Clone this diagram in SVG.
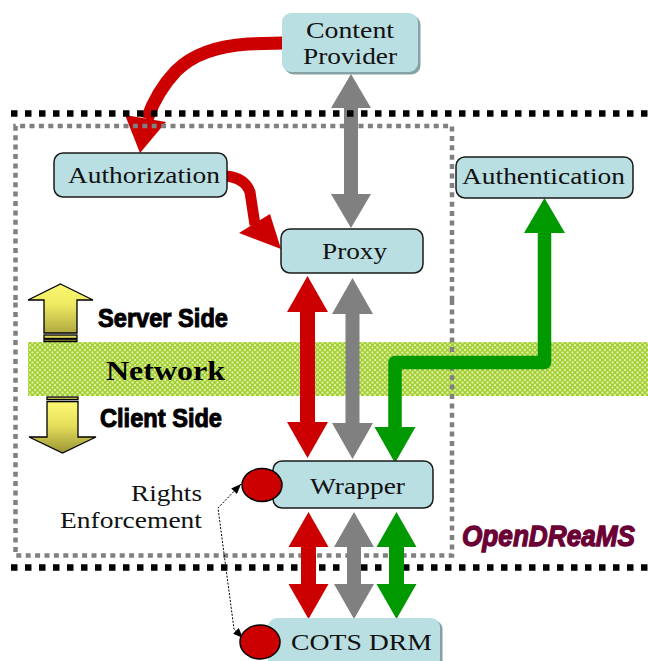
<svg xmlns="http://www.w3.org/2000/svg" width="648" height="661" viewBox="0 0 648 661">
  <style>
    .box { fill: #b9dfe2; stroke: #1a1a1a; stroke-width: 1.5; }
    .boxsoft { fill: #b9dfe2; }
    .shade { fill: #86a2a4; }
    .lbl { font-family: "Liberation Serif", "Times New Roman", serif; font-size: 24px; fill: #111; }
    .side { font-family: "Liberation Sans", Arial, sans-serif; font-weight: bold; font-size: 25px; fill: #000; stroke: #000; stroke-width: 1; }
    .red { fill: #cc0000; }
    .gray { fill: #808080; }
    .green { fill: #009900; }
    .blackdots { fill: none; stroke: #000; stroke-width: 6.5; stroke-dasharray: 6.5 7.5; }
    .graydots { fill: none; stroke: #808080; stroke-width: 4.5; stroke-dasharray: 5 4.4; }
    .ylw { stroke: #000; stroke-width: 1.3; stroke-linejoin: miter; }
  </style>
  <defs>
    <pattern id="mesh" width="5" height="5" patternUnits="userSpaceOnUse">
      <rect width="5" height="5" fill="#a2cf30"/>
      <circle cx="0" cy="0" r="1.2" fill="#dcefa4"/>
      <circle cx="5" cy="0" r="1.2" fill="#dcefa4"/>
      <circle cx="0" cy="5" r="1.2" fill="#dcefa4"/>
      <circle cx="5" cy="5" r="1.2" fill="#dcefa4"/>
      <circle cx="2.5" cy="2.5" r="1.2" fill="#dcefa4"/>
    </pattern>
    <linearGradient id="upFill" gradientUnits="userSpaceOnUse" x1="0" y1="284" x2="0" y2="342">
      <stop offset="0" stop-color="#fbf770"/>
      <stop offset="0.35" stop-color="#eeea62"/>
      <stop offset="1" stop-color="#9c9536"/>
    </linearGradient>
    <linearGradient id="downFill" gradientUnits="userSpaceOnUse" x1="0" y1="397" x2="0" y2="453">
      <stop offset="0" stop-color="#a59d3c"/>
      <stop offset="0.12" stop-color="#fbf770"/>
      <stop offset="0.5" stop-color="#e6e05c"/>
      <stop offset="1" stop-color="#9c9536"/>
    </linearGradient>
    <marker id="tip" viewBox="0 0 10 8" refX="10" refY="4" markerWidth="10" markerHeight="8" markerUnits="userSpaceOnUse" orient="auto-start-reverse">
      <path d="M0,0 L10,4 L0,8 z" fill="#000"/>
    </marker>
  </defs>

  <rect width="648" height="661" fill="#fff"/>

  <!-- network band -->
  <rect x="28" y="342" width="620" height="54" fill="url(#mesh)"/>

  <!-- server / client side indicators -->
  <g id="server-side">
    <polygon class="ylw" fill="url(#upFill)" points="60.5,284 93,300 77,300 77,333 44,333 44,300 28,300"/>
    <rect class="ylw" fill="#d8d256" x="44" y="335" width="33" height="3.5"/>
    <rect class="ylw" fill="#d8d256" x="44" y="339.8" width="33" height="1.8"/>
    <text class="side" x="98" y="327" textLength="130" lengthAdjust="spacingAndGlyphs">Server Side</text>
  </g>
  <g id="network-label">
    <text x="106" y="380" font-family="'Liberation Serif', 'Times New Roman', serif" font-weight="bold" font-size="27" fill="#000" textLength="119" lengthAdjust="spacingAndGlyphs">Network</text>
  </g>
  <g id="client-side">
    <rect class="ylw" fill="#d8d256" x="47" y="397" width="31" height="2.5"/>
    <polygon class="ylw" fill="url(#downFill)" points="47,401.5 78,401.5 78,437 96,437 62.5,453 29,437 47,437"/>
    <text class="side" x="100" y="427" textLength="122" lengthAdjust="spacingAndGlyphs">Client Side</text>
  </g>

  <!-- frame lines passing beneath the connectors -->
  <g id="frame-back">
    <line class="blackdots" x1="11" y1="567.5" x2="648" y2="567.5"/>
    <path class="graydots" d="M452,300 V555.5 H15.5 V300"/>
  </g>

  <g id="connectors">
    <!-- content provider to authorization -->
    <path d="M284,43 L248,44 Q200,47 176,71 Q157,91 147,119" fill="none" stroke="#cc0000" stroke-width="13"/>
    <polygon class="red" points="125,115 166,122 140,153"/>
    <!-- authorization to proxy -->
    <path d="M226,176 Q245,178 250,192 L255,225" fill="none" stroke="#cc0000" stroke-width="11"/>
    <polygon class="red" points="239,233 270,214 281,249"/>
    <!-- content provider <-> proxy -->
    <polygon class="gray" points="351,74 371,108 358,108 358,194 371,194 351,228 331,194 344,194 344,108 331,108"/>
    <!-- proxy <-> wrapper -->
    <polygon class="red" points="307.5,276 328,312 315,312 315,422 328,422 307.5,458 287,422 300,422 300,312 287,312"/>
    <polygon class="gray" points="352.5,278 373,314 359.5,314 359.5,423 373,423 352.5,459 332,423 345.5,423 345.5,314 332,314"/>
    <!-- wrapper <-> authentication -->
    <path d="M395,429 V362.5 H544.5 V231" fill="none" stroke="#009900" stroke-width="13.5" stroke-linejoin="round"/>
    <polygon class="green" points="544.5,198 565,233 524,233"/>
    <polygon class="green" points="395,463 415.5,427 374.5,427"/>
    <!-- wrapper <-> COTS DRM -->
    <polygon class="red" points="308.5,512 328.5,547 316,547 316,584 328.5,584 308.5,619 288.5,584 301,584 301,547 288.5,547"/>
    <polygon class="gray" points="354,512 374,547 361,547 361,584 374,584 354,619 334,584 347,584 347,547 334,547"/>
    <polygon class="green" points="396.5,512 416.5,547 404,547 404,584 416.5,584 396.5,619 376.5,584 389,584 389,547 376.5,547"/>
    <!-- rights enforcement link -->
    <path d="M241,484 L218,508 L234,629 L243,638" fill="none" stroke="#000" stroke-width="1" stroke-dasharray="2 1.5" marker-start="url(#tip)" marker-end="url(#tip)"/>
  </g>

  <!-- frame lines drawn over the connectors -->
  <g id="frame-front">
    <line class="blackdots" x1="11" y1="113.5" x2="648" y2="113.5"/>
    <path class="graydots" d="M15.5,300 V126 H452 V300"/>
  </g>

  <g id="content-provider">
    <rect class="shade" x="284.5" y="15.5" width="136" height="59" rx="9"/>
    <rect class="boxsoft" x="282" y="13" width="136" height="59" rx="9"/>
    <text class="lbl" x="350" y="38" text-anchor="middle" textLength="88" lengthAdjust="spacingAndGlyphs">Content</text>
    <text class="lbl" x="350" y="64" text-anchor="middle" textLength="94" lengthAdjust="spacingAndGlyphs">Provider</text>
  </g>

  <g id="authorization">
    <rect class="box" x="54" y="153" width="173" height="44" rx="9"/>
    <text class="lbl" x="144" y="183" text-anchor="middle" textLength="152" lengthAdjust="spacingAndGlyphs">Authorization</text>
  </g>

  <g id="proxy">
    <rect class="box" x="281" y="229" width="142" height="44" rx="9"/>
    <text class="lbl" x="354.5" y="259" text-anchor="middle" textLength="65" lengthAdjust="spacingAndGlyphs">Proxy</text>
  </g>

  <g id="authentication">
    <rect class="box" x="456" y="157" width="177" height="41" rx="9"/>
    <text class="lbl" x="543.5" y="184" text-anchor="middle" textLength="163" lengthAdjust="spacingAndGlyphs">Authentication</text>
  </g>

  <g id="wrapper">
    <rect class="box" x="273" y="461" width="160" height="47" rx="9"/>
    <ellipse cx="262" cy="485" rx="20" ry="16.5" fill="#cc0000" stroke="#000" stroke-width="1.5"/>
    <text class="lbl" x="357.5" y="494" text-anchor="middle" textLength="95" lengthAdjust="spacingAndGlyphs">Wrapper</text>
  </g>

  <g id="cots-drm">
    <rect class="shade" x="270.5" y="620" width="172" height="50" rx="9"/>
    <rect class="boxsoft" x="268" y="618" width="172" height="50" rx="9"/>
    <ellipse cx="260" cy="642" rx="20" ry="17" fill="#cc0000" stroke="#000" stroke-width="1.5"/>
    <text class="lbl" x="361.5" y="650" text-anchor="middle" textLength="141" lengthAdjust="spacingAndGlyphs">COTS DRM</text>
  </g>

  <g id="rights-enforcement">
    <text class="lbl" x="202" y="501" text-anchor="end" textLength="71" lengthAdjust="spacingAndGlyphs">Rights</text>
    <text class="lbl" x="202" y="528" text-anchor="end" textLength="142" lengthAdjust="spacingAndGlyphs">Enforcement</text>
  </g>

  <g id="opendreams-label">
    <text transform="translate(462,546) scale(1,1.2)" x="0" y="0" font-family="'Liberation Sans', Arial, sans-serif" font-weight="bold" font-style="italic" font-size="25" fill="#6b0035" stroke="#6b0035" stroke-width="1.1" textLength="173" lengthAdjust="spacingAndGlyphs">OpenDReaMS</text>
  </g>
</svg>
